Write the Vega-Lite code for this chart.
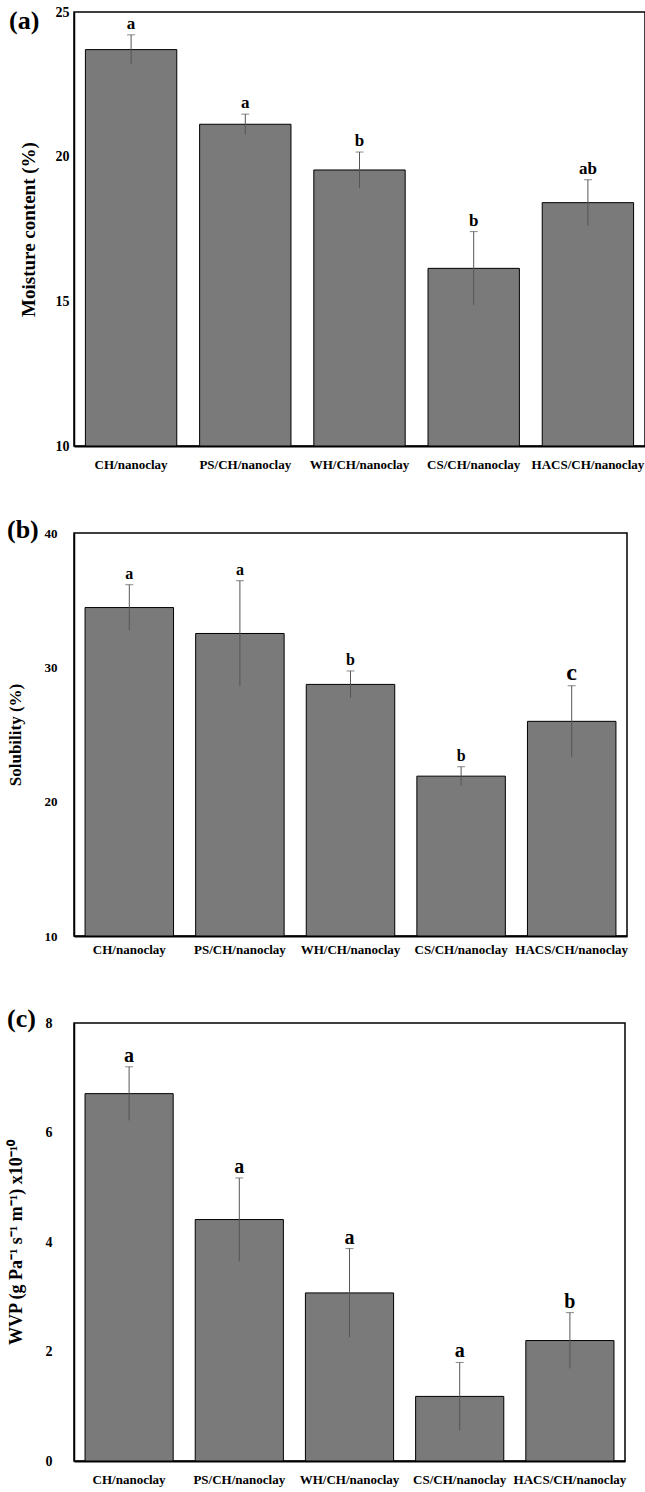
{
  "$schema": "https://vega.github.io/schema/vega-lite/v6.json",
  "background": "white",
  "padding": {"left": 5, "top": 4, "right": 0, "bottom": 0},
  "bounds": "flush",
  "spacing": 87,
  "config": {
    "font": "Liberation Serif",
    "view": {"stroke": "black", "strokeWidth": 1.5},
    "axis": {"labelFont": "Liberation Serif", "titleFont": "Liberation Serif", "labelFontWeight": "bold", "titleFontWeight": "bold", "labelColor": "black", "titleColor": "black", "domainColor": "black", "ticks": false, "tickSize": 0, "grid": false},
    "axisX": {"labelAngle": 0, "domainWidth": 2, "labelLimit": 0, "labelOverlap": false},
    "axisY": {"domainWidth": 1.5},
    "text": {"font": "Liberation Serif", "fontWeight": "bold", "color": "black"},
    "title": {"font": "Liberation Serif", "fontWeight": "bold", "color": "black", "fontSize": 26, "orient": "top", "anchor": "start", "frame": "group", "align": "left", "baseline": "top", "offset": 0}
  },
  "datasets": {
    "a": [
      {"sample": "CH/nanoclay", "mean": 23.70, "lo": 23.19, "hi": 24.21, "letter": "a"},
      {"sample": "PS/CH/nanoclay", "mean": 21.12, "lo": 20.77, "hi": 21.47, "letter": "a"},
      {"sample": "WH/CH/nanoclay", "mean": 19.54, "lo": 18.92, "hi": 20.16, "letter": "b"},
      {"sample": "CS/CH/nanoclay", "mean": 16.14, "lo": 14.87, "hi": 17.41, "letter": "b"},
      {"sample": "HACS/CH/nanoclay", "mean": 18.41, "lo": 17.62, "hi": 19.20, "letter": "ab"}
    ],
    "b": [
      {"sample": "CH/nanoclay", "mean": 34.45, "lo": 32.75, "hi": 36.15, "letter": "a"},
      {"sample": "PS/CH/nanoclay", "mean": 32.52, "lo": 28.6, "hi": 36.45, "letter": "a"},
      {"sample": "WH/CH/nanoclay", "mean": 28.73, "lo": 27.73, "hi": 29.73, "letter": "b"},
      {"sample": "CS/CH/nanoclay", "mean": 21.9, "lo": 21.2, "hi": 22.6, "letter": "b"},
      {"sample": "HACS/CH/nanoclay", "mean": 25.98, "lo": 23.33, "hi": 28.63, "letter": "c"}
    ],
    "c": [
      {"sample": "CH/nanoclay", "mean": 6.71, "lo": 6.22, "hi": 7.2, "letter": "a"},
      {"sample": "PS/CH/nanoclay", "mean": 4.41, "lo": 3.65, "hi": 5.17, "letter": "a"},
      {"sample": "WH/CH/nanoclay", "mean": 3.07, "lo": 2.26, "hi": 3.88, "letter": "a"},
      {"sample": "CS/CH/nanoclay", "mean": 1.18, "lo": 0.56, "hi": 1.80, "letter": "a"},
      {"sample": "HACS/CH/nanoclay", "mean": 2.20, "lo": 1.69, "hi": 2.71, "letter": "b"}
    ]
  },
  "vconcat": [
    {
      "width": 571, "height": 434,
      "data": {"name": "a"},
      "title": {"text": "(a)", "dx": -65, "dy": 33},
      "encoding": {
        "x": {"field": "sample", "type": "nominal", "sort": null, "scale": {"paddingInner": 0.2, "paddingOuter": 0.1}, "axis": {"title": null, "labelPadding": 12, "labelFontSize": 13}}
      },
      "layer": [
        {"mark": {"type": "bar", "fill": "#7a7a7a", "stroke": "black", "strokeWidth": 1},
         "encoding": {
           "y": {"field": "mean", "type": "quantitative", "title": "Moisture content (%)", "scale": {"domain": [10, 25], "nice": false, "zero": false}, "axis": {"values": [10, 15, 20, 25], "labelPadding": 5, "labelFontSize": 14, "titleFontSize": 19, "titlePadding": 17}},
           "y2": {"datum": 10}
         }},
        {"mark": {"type": "rule", "color": "#555555", "strokeWidth": 1},
         "encoding": {"y": {"field": "lo", "type": "quantitative", "title": "Moisture content (%)"}, "y2": {"field": "hi"}}},
        {"mark": {"type": "tick", "color": "#555555", "thickness": 1, "size": 8},
         "encoding": {"y": {"field": "hi", "type": "quantitative", "title": "Moisture content (%)"}}},
        {"mark": {"type": "text", "baseline": "alphabetic", "dy": -6, "fontSize": 17},
         "encoding": {"y": {"field": "hi", "type": "quantitative", "title": "Moisture content (%)"}, "text": {"field": "letter"}}}
      ]
    },
    {
      "width": 553, "height": 403,
      "data": {"name": "b"},
      "title": {"text": "(b)", "dx": -67, "dy": 20},
      "encoding": {
        "x": {"field": "sample", "type": "nominal", "sort": null, "scale": {"paddingInner": 0.2, "paddingOuter": 0.1}, "axis": {"title": null, "labelPadding": 7, "labelFontSize": 13}}
      },
      "layer": [
        {"mark": {"type": "bar", "fill": "#7a7a7a", "stroke": "black", "strokeWidth": 1},
         "encoding": {
           "y": {"field": "mean", "type": "quantitative", "title": "Solubility (%)", "scale": {"domain": [10, 40], "nice": false, "zero": false}, "axis": {"values": [10, 20, 30, 40], "labelPadding": 17, "labelFontSize": 13, "titleFontSize": 17, "titlePadding": 20}},
           "y2": {"datum": 10}
         }},
        {"mark": {"type": "rule", "color": "#555555", "strokeWidth": 1},
         "encoding": {"y": {"field": "lo", "type": "quantitative", "title": "Solubility (%)"}, "y2": {"field": "hi"}}},
        {"mark": {"type": "tick", "color": "#555555", "thickness": 1, "size": 8},
         "encoding": {"y": {"field": "hi", "type": "quantitative", "title": "Solubility (%)"}}},
        {"mark": {"type": "text", "baseline": "alphabetic", "dy": -6},
         "encoding": {"y": {"field": "hi", "type": "quantitative", "title": "Solubility (%)"}, "text": {"field": "letter"},
           "size": {"condition": {"test": "datum.letter === 'c'", "value": 24}, "value": 16}}}
      ]
    },
    {
      "width": 551, "height": 438,
      "data": {"name": "c"},
      "title": {"text": "(c)", "dx": -67, "dy": 20},
      "encoding": {
        "x": {"field": "sample", "type": "nominal", "sort": null, "scale": {"paddingInner": 0.2, "paddingOuter": 0.1}, "axis": {"title": null, "labelPadding": 12, "labelFontSize": 13}}
      },
      "layer": [
        {"mark": {"type": "bar", "fill": "#7a7a7a", "stroke": "black", "strokeWidth": 1},
         "encoding": {
           "y": {"field": "mean", "type": "quantitative", "title": "WVP (g Pa⁻¹ s⁻¹ m⁻¹) x10⁻¹⁰", "scale": {"domain": [0, 8], "nice": false}, "axis": {"values": [0, 2, 4, 6, 8], "labelPadding": 22, "labelFontSize": 14, "titleFontSize": 18, "titlePadding": 20}}
         }},
        {"mark": {"type": "rule", "color": "#555555", "strokeWidth": 1},
         "encoding": {"y": {"field": "lo", "type": "quantitative", "title": "WVP (g Pa⁻¹ s⁻¹ m⁻¹) x10⁻¹⁰"}, "y2": {"field": "hi"}}},
        {"mark": {"type": "tick", "color": "#555555", "thickness": 1, "size": 8},
         "encoding": {"y": {"field": "hi", "type": "quantitative", "title": "WVP (g Pa⁻¹ s⁻¹ m⁻¹) x10⁻¹⁰"}}},
        {"mark": {"type": "text", "baseline": "alphabetic", "dy": -5, "fontSize": 20},
         "encoding": {"y": {"field": "hi", "type": "quantitative", "title": "WVP (g Pa⁻¹ s⁻¹ m⁻¹) x10⁻¹⁰"}, "text": {"field": "letter"}}}
      ]
    }
  ]
}
